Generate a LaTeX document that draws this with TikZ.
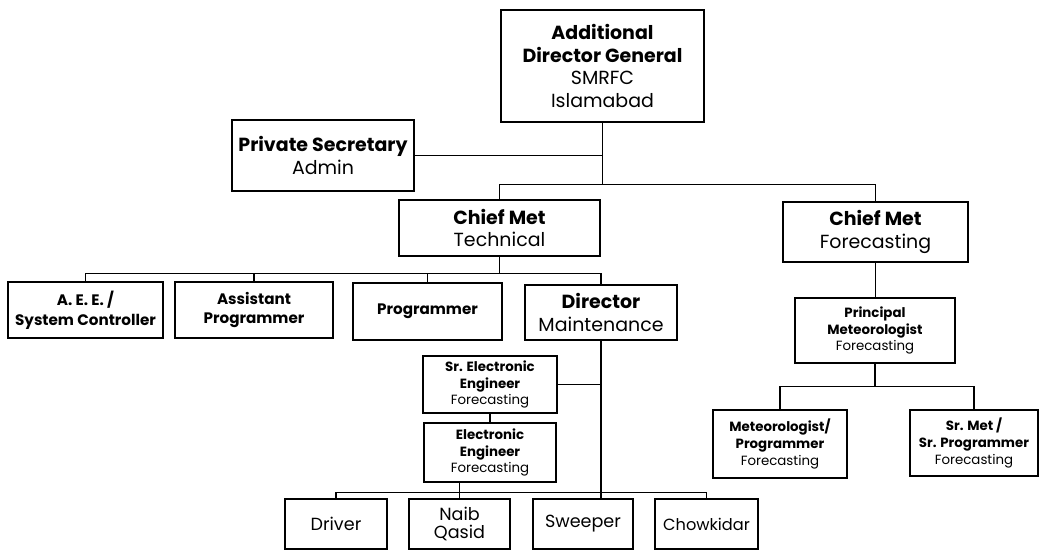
\documentclass[tikz,border=0pt]{standalone}
\usepackage{fontspec}
\setmainfont{Poppins}

\begin{document}
\begin{tikzpicture}[x=0.025cm,y=-0.025cm]
		\tikzset{post/.style = {shape=rectangle,draw,line width=1.8pt,align=center,inner sep=1pt}}
		\tikzset{big/.style = {font=\fontsize{13.5}{16}\selectfont}}
		\tikzset{mid/.style = {font=\fontsize{10.8}{14}\selectfont}}
		\tikzset{small/.style = {font=\fontsize{9.5}{12}\selectfont}}
		\tikzset{low/.style = {font=\fontsize{12.5}{13}\selectfont}}
		\tikzset{link/.style = {line width=0.9pt}}
		\useasboundingbox (0,0) rectangle (1040,551);
			\node[post,big,minimum width=5.08cm,minimum height=2.8cm] (adg) at (602.5,66) {\textbf{Additional}\\\textbf{Director General}\\SMRFC\\Islamabad};
			\node[post,big,minimum width=4.55cm,minimum height=1.78cm] (ps) at (323,155.5) {\textbf{Private Secretary}\\Admin};
			\node[post,big,minimum width=5.03cm,minimum height=1.4cm] (cmt) at (499.5,228) {\textbf{Chief Met}\\Technical};
			\node[post,big,minimum width=4.63cm,minimum height=1.5cm] (cmf) at (875.5,232) {\textbf{Chief Met}\\Forecasting};
			\node[post,mid,minimum width=3.88cm,minimum height=1.4cm] (aee) at (85.5,310) {\textbf{A. E. E. /}\\\textbf{System Controller}};
			\node[post,mid,minimum width=3.95cm,minimum height=1.4cm] (asp) at (254,310) {\textbf{Assistant}\\\textbf{Programmer}};
			\node[post,mid,minimum width=3.73cm,minimum height=1.43cm] (prg) at (427.5,311.5) {\textbf{Programmer}};
			\node[post,big,minimum width=3.8cm,minimum height=1.38cm] (dir) at (601,312.5) {\textbf{Director}\\Maintenance};
			\node[post,small,minimum width=4cm,minimum height=1.63cm] (pm) at (875,330.5) {\textbf{Principal}\\\textbf{Meteorologist}\\Forecasting};
			\node[post,small,minimum width=3.35cm,minimum height=1.7cm] (mp) at (780,444) {\textbf{Meteorologist/}\\\textbf{Programmer}\\Forecasting};
			\node[post,small,minimum width=3.2cm,minimum height=1.65cm] (smp) at (974,443) {\textbf{Sr. Met /}\\\textbf{Sr. Programmer}\\Forecasting};
			\node[post,small,minimum width=3.35cm,minimum height=1.43cm] (see) at (490,384.5) {\textbf{Sr. Electronic}\\\textbf{Engineer}\\Forecasting};
			\node[post,small,minimum width=3.3cm,minimum height=1.48cm] (ee) at (490,452.5) {\textbf{Electronic}\\\textbf{Engineer}\\Forecasting};
			\node[post,low,minimum width=2.55cm,minimum height=1.25cm] (drv) at (336,524) {Driver};
			\node[post,low,minimum width=2.53cm,minimum height=1.25cm] (nq) at (459.5,524) {Naib\\Qasid};
			\node[post,low,minimum width=2.5cm,minimum height=1.25cm] (swp) at (583,524) {Sweeper};
			\node[post,low,font=\fontsize{11.5}{13}\selectfont,minimum width=2.58cm,minimum height=1.25cm] (chk) at (706.5,524) {Chowkidar};
			\path (adg.south) ++(0,61) coordinate (tb);
			\path (cmt.south) ++(0,16) coordinate (mb);
			\path (pm.south) ++(0,22) coordinate (rb);
			\path (ee.south) ++(0,9) coordinate (lb);
			\draw[link] (adg.south) |- (ps.east);
			\draw[link] (adg.south) -- (tb);
			\draw[link] (cmt.north) |- (tb) -| (cmf.north);
			\draw[link] (cmf.south) -- (cmf.south |- pm.north);
			\draw[link] (mp.north) |- (rb) -| (smp.north);
			\draw[link] (pm.south) -- (rb);
			\draw[link] (aee.north) |- (mb) -| (dir.north);
			\draw[link] (cmt.south) -- (mb);
			\draw[link] (asp.north) -- (asp.north |- mb);
			\draw[link] (prg.north) -- (prg.north |- mb);
			\draw[link] (dir.south) -- (dir.south |- swp.north);
			\draw[link] (see.east) -- (see.east -| dir.south);
			\draw[link] (see.south) -- (ee.north);
			\draw[link] (drv.north) |- (lb) -| (chk.north);
			\draw[link] (ee.south -| nq.north) -- (nq.north);
		\end{tikzpicture}
\end{document}
